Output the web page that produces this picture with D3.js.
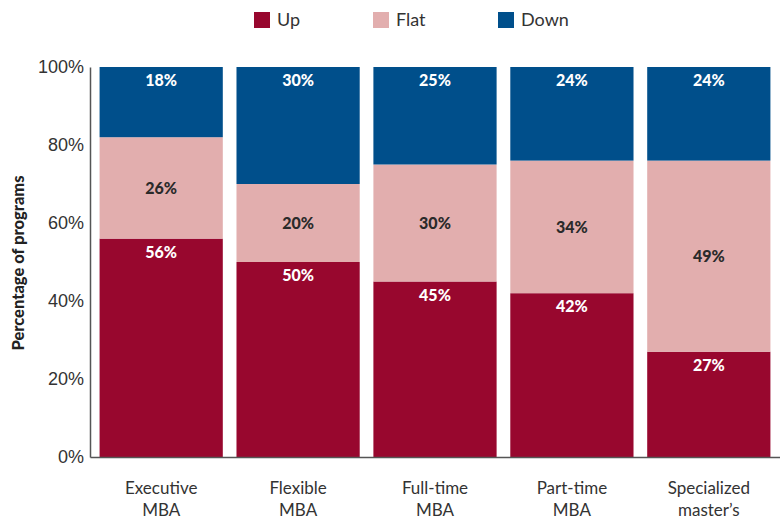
<!DOCTYPE html>
<html>
<head>
<meta charset="utf-8">
<script src="https://cdn.jsdelivr.net/npm/d3@7"></script>
<style>
  body { margin: 0; background: #fff; }
  svg { display: block; font-family: "Century Gothic", "Lato", "DejaVu Sans", sans-serif; }
</style>
</head>
<body>
<svg id="chart" width="780" height="519"></svg>
<script>
// Share of programs reporting each application trend
const categories = [["Executive", "MBA"], ["Flexible", "MBA"], ["Full-time", "MBA"], ["Part-time", "MBA"], ["Specialized", "master\u2019s"]];
const seriesNames = ["Up", "Flat", "Down"];
const upValues   = [56, 50, 45, 42, 27];
const flatValues = [26, 20, 30, 34, 49];
const downValues = [18, 30, 25, 24, 24];
const yTicks = [0, 20, 40, 60, 80, 100];
const colors = { Up: "#98072e", Flat: "#e2aeae", Down: "#004f8b" };

const svg = d3.select("#chart");
const plotLeft = 90, plotRight = 780, plotTop = 67, plotBottom = 457;

const rows = categories.map((c, i) => ({ key: c.join(" "), lines: c, Up: upValues[i], Flat: flatValues[i], Down: downValues[i] }));
const stack = d3.stack().keys(seriesNames)(rows);

const x = d3.scaleBand().domain(rows.map(d => d.key)).range([plotLeft, plotRight]).paddingInner(0.1).paddingOuter(0.07);
const y = d3.scaleLinear().domain([0, 100]).range([plotBottom, plotTop]);

// stacked segments
const layers = svg.append("g").selectAll("g").data(stack).join("g").attr("fill", d => colors[d.key]);
layers.selectAll("rect").data(d => d).join("rect")
  .attr("x", d => x(d.data.key))
  .attr("width", x.bandwidth())
  .attr("y", d => y(d[1]))
  .attr("height", d => y(d[0]) - y(d[1]));

// value labels
const labels = svg.append("g").attr("font-weight", 900).attr("font-size", 16).attr("text-anchor", "middle");
stack.forEach(layer => {
  layer.forEach(d => {
    const v = d[1] - d[0];
    const cx = x(d.data.key) + x.bandwidth() / 2;
    let cy;
    if (layer.key === "Flat") cy = (y(d[0]) + y(d[1])) / 2 + 6;
    else cy = y(d[1]) + 19;
    labels.append("text")
      .attr("x", cx).attr("y", cy)
      .attr("fill", layer.key === "Flat" ? "#2a2a2a" : "#fff")
      .text(v + "%");
  });
});

// axes
const yAxis = d3.axisLeft(y).tickValues(yTicks).tickSize(0).tickPadding(6).tickFormat(d => d + "%");
const gy = svg.append("g").attr("transform", `translate(${plotLeft},0)`).call(yAxis);
gy.select(".domain").attr("stroke", "#555").attr("stroke-width", 1.5);
gy.selectAll("text").attr("font-size", 18).attr("fill", "#333").attr("font-family", null);

const xAxis = d3.axisBottom(x).tickSize(0).tickFormat("");
const gx = svg.append("g").attr("transform", `translate(0,${plotBottom})`).call(xAxis);
gx.select(".domain").attr("stroke", "#555").attr("stroke-width", 1.5);

// category labels on two lines
const catG = svg.append("g").attr("font-size", 17).attr("fill", "#333").attr("text-anchor", "middle");
rows.forEach(d => {
  const t = catG.append("text").attr("x", x(d.key) + x.bandwidth() / 2).attr("y", 494);
  d.lines.forEach((ln, i) => t.append("tspan").attr("x", x(d.key) + x.bandwidth() / 2).attr("dy", i === 0 ? 0 : 22).text(ln));
});

// y-axis title
svg.append("text")
  .attr("transform", "translate(24,263) rotate(-90)")
  .attr("text-anchor", "middle").attr("font-weight", 900).attr("font-size", 16.5).attr("fill", "#222")
  .text("Percentage of programs");

// legend
const legendX = [254, 373, 498];
const lg = svg.append("g");
seriesNames.forEach((s, i) => {
  lg.append("rect").attr("x", legendX[i]).attr("y", 12).attr("width", 16).attr("height", 16).attr("fill", colors[s]);
  lg.append("text").attr("x", legendX[i] + 23).attr("y", 26).attr("font-size", 18).attr("fill", "#333").text(s);
});
</script>
</body>
</html>
